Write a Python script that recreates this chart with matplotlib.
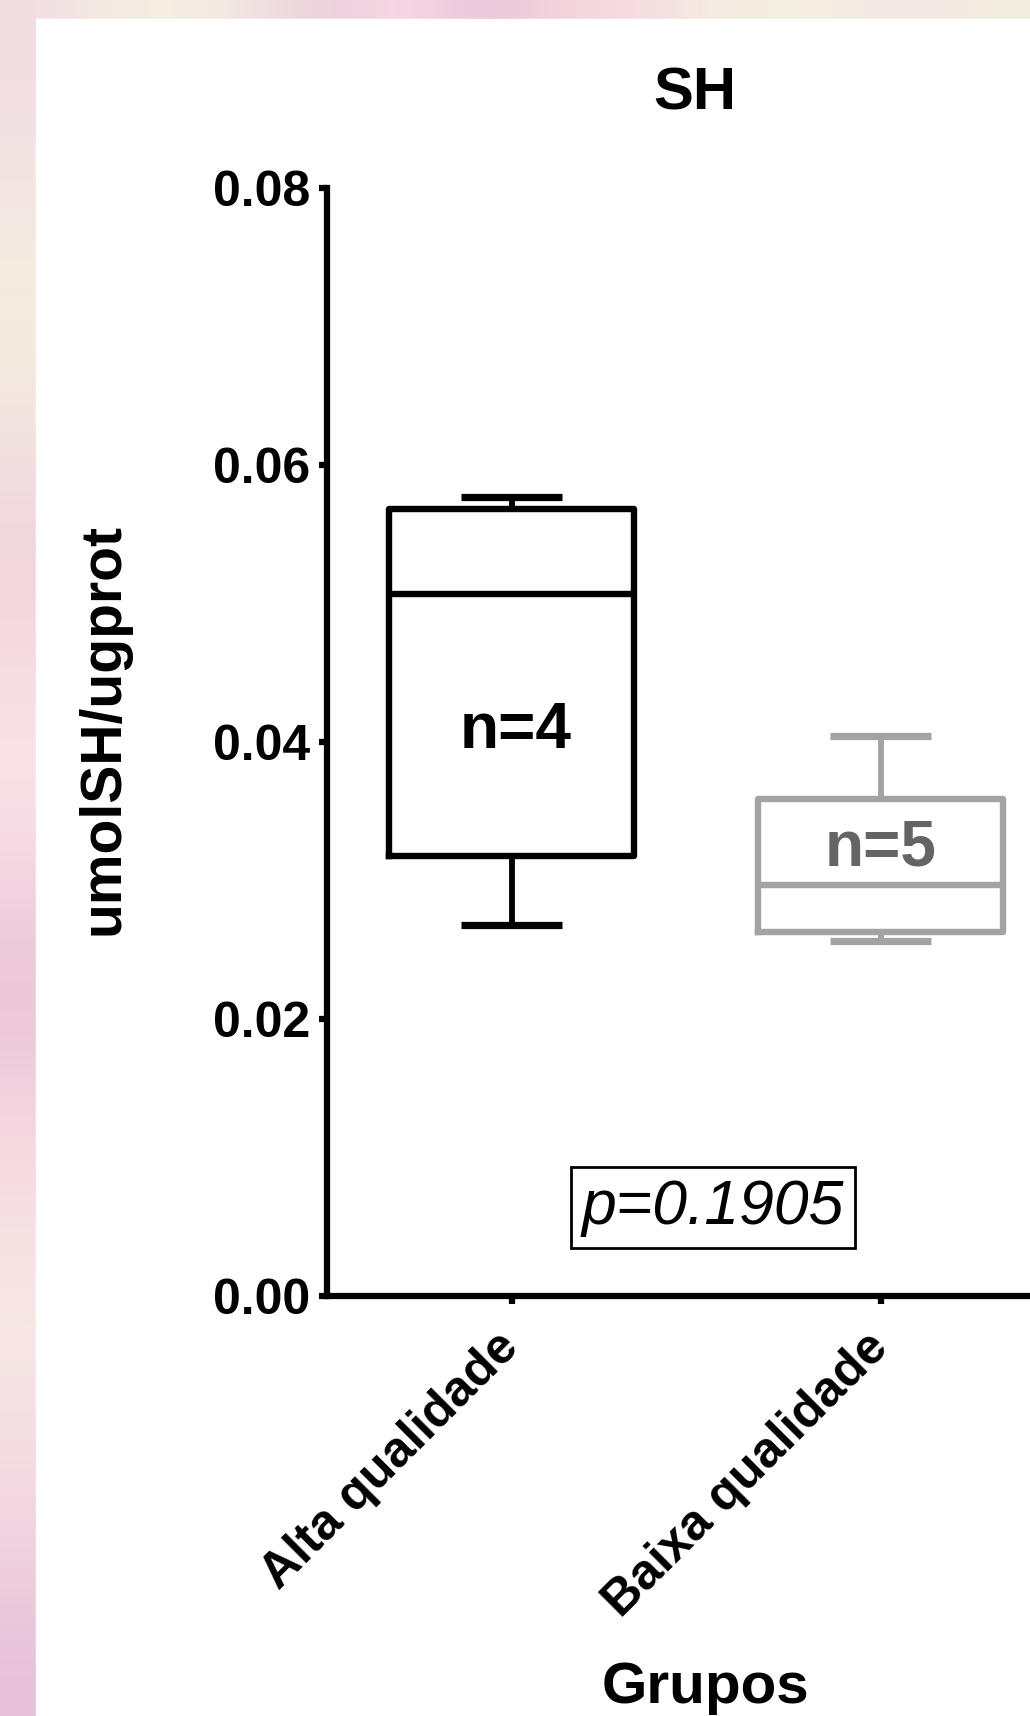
import matplotlib
matplotlib.use("Agg")
import matplotlib.pyplot as plt
import numpy as np
from matplotlib.colors import to_rgb
from matplotlib.patches import Rectangle
from matplotlib.transforms import ScaledTranslation

plt.rcParams['font.family'] = ['Liberation Sans', 'DejaVu Sans']

# dados
grupos = ["Alta qualidade", "Baixa qualidade"]
n_amostras = [4, 5]
whis_min = [0.0268, 0.0256]
q1 = [0.0318, 0.0263]
mediana = [0.0507, 0.0297]
q3 = [0.0568, 0.0359]
whis_max = [0.0577, 0.0404]
p_valor = 0.1905
yticks = [0.00, 0.02, 0.04, 0.06, 0.08]

cores = ["#000000", "#a3a3a3"]
cores_n = ["#000000", "#646464"]

W, H = 1030, 1716
fig = plt.figure(figsize=(W / 100, H / 100), dpi=100)

# fundo rosado desfocado nas bordas
bg = fig.add_axes([0, 0, 1, 1], zorder=-10)
bg.set_xlim(0, W)
bg.set_ylim(H, 0)
bg.axis('off')
topo = ["#f2dde2", "#f4ece2", "#f4efe3", "#f2e3e2", "#e9cdd9", "#fbdbe6",
        "#e8c3d9", "#f1d4dc", "#f8d9e0", "#f3ebe2", "#f4efe2", "#f3ede2",
        "#f2e6e3", "#f3eee1"]
lado = ["#f2dde2", "#f3e3e3", "#f4ece0", "#f4ebdf", "#f1dce0", "#f2d3dc",
        "#f8e0e6", "#fae4ea", "#f0cddb", "#eac5d7", "#f7d7e1", "#f6e2e3",
        "#f7e9e6", "#f4dde3", "#f1d2de", "#e6c0d8"]
bg.imshow(np.array([[to_rgb(c) for c in topo]]), extent=(0, W, 19, 0),
          aspect='auto', interpolation='bicubic')
bg.imshow(np.array([[to_rgb(c)] for c in lado]), extent=(0, 36, H, 0),
          aspect='auto', interpolation='bicubic')
bg.add_patch(Rectangle((36, 19), W - 36, H - 19, color='white'))

# eixo principal
ax = fig.add_axes([327 / W, 1 - 1296 / H, 738 / W, 1108 / H])
ax.patch.set_alpha(0)

for i in range(len(grupos)):
    c = cores[i]
    stats = [dict(med=mediana[i], q1=q1[i], q3=q3[i],
                  whislo=whis_min[i], whishi=whis_max[i], fliers=[])]
    ax.bxp(stats, positions=[i + 1], widths=0.664, capwidths=0.274,
           showfliers=False, manage_ticks=False,
           boxprops=dict(color=c, lw=4.6, solid_joinstyle='round'),
           whiskerprops=dict(color=c, lw=4.2),
           capprops=dict(color=c, lw=5.2, solid_capstyle='butt'),
           medianprops=dict(color=c, lw=4.6, solid_capstyle='butt'))

ax.text(1.01, 0.0408, f"n={n_amostras[0]}", ha='center', va='center',
        fontsize=46, fontweight='bold', color=cores_n[0])
ax.text(2.0, 0.0323, f"n={n_amostras[1]}", ha='center', va='center',
        fontsize=46, fontweight='bold', color=cores_n[1])

ax.text(1.546, 0.0064, f"p={p_valor:.4f}", ha='center', va='center',
        fontsize=45, fontstyle='italic',
        bbox=dict(boxstyle='square,pad=0.18', fc='white', ec='black', lw=2))

ax.set_xlim(0.5, 2.5)
ax.set_ylim(0, 0.08)
ax.spines['top'].set_visible(False)
ax.spines['right'].set_visible(False)
ax.spines['left'].set_linewidth(4.5)
ax.spines['bottom'].set_linewidth(4.5)

ax.set_yticks(yticks)
ax.set_yticklabels([f"{v:.2f}" for v in yticks], fontsize=36, fontweight='bold')
ax.set_xticks([1, 2])
ax.set_xticklabels(grupos, rotation=45, ha='right', va='top',
                   rotation_mode='anchor', fontsize=36, fontweight='bold')
ax.tick_params(axis='both', width=4.5, length=6, direction='out', pad=6)
ax.tick_params(axis='x', pad=14)
desloca = ScaledTranslation(-16 / 100, 0, fig.dpi_scale_trans)
for lbl in ax.get_xticklabels():
    lbl.set_transform(lbl.get_transform() + desloca)

fig.text(695 / W, 1 - 94 / H, "SH", ha='center', va='center',
         fontsize=43, fontweight='bold')
fig.text(104 / W, 1 - 729 / H, "umolSH/ugprot", ha='center', va='center',
         rotation=90, fontsize=41, fontweight='bold')
fig.text(705 / W, 1 - 1688 / H, "Grupos", ha='center', va='center',
         fontsize=42, fontweight='bold')

fig.savefig("out.png", dpi=100)
